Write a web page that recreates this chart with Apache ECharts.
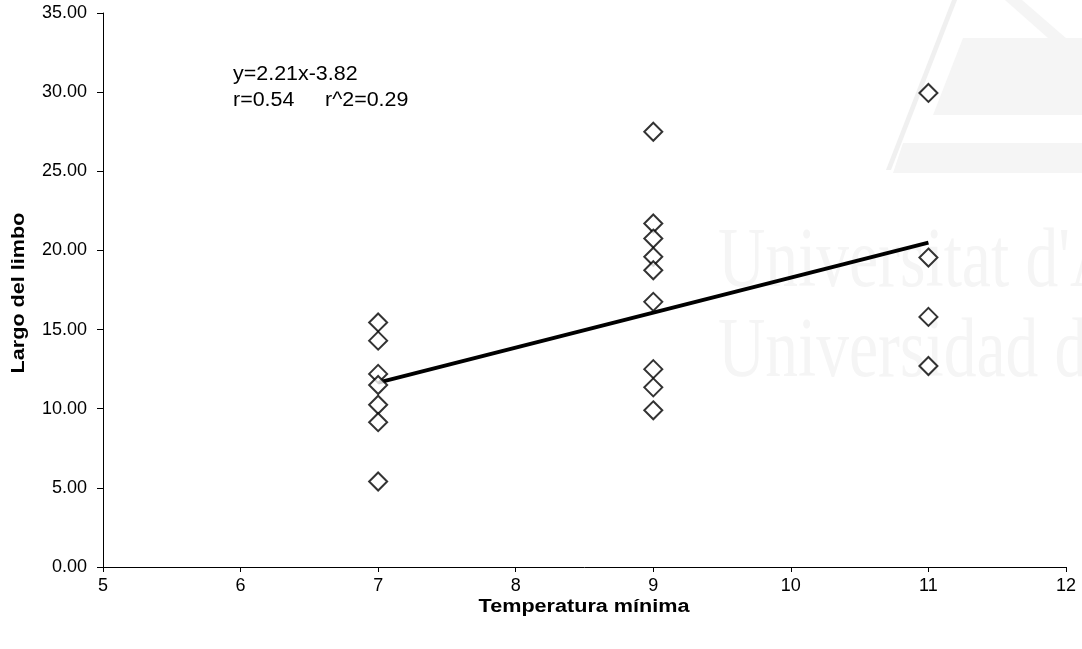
<!DOCTYPE html>
<html>
<head>
<meta charset="utf-8">
<script src="https://cdn.jsdelivr.net/npm/echarts@6/dist/echarts.min.js"></script>
<style>
  html, body { margin: 0; padding: 0; background: #fff; }
  #chart { width: 1082px; height: 649px; }
</style>
</head>
<body>
<div id="chart"></div>
<script>
// Minimum temperature (x) and blade length (y) per observation
const tempMin = [7, 7, 7, 7, 7, 7, 7,
                 9, 9, 9, 9, 9, 9, 9, 9, 9,
                 11, 11, 11, 11];
const largoLimbo = [15.45, 14.3, 12.2, 11.5, 10.25, 9.15, 5.4,
                    27.5, 21.7, 20.75, 19.6, 18.75, 16.75, 12.5, 11.35, 9.9,
                    29.95, 19.55, 15.8, 12.7];

// Fitted regression: y = 2.21x - 3.82, drawn over the observed x range
const slope = 2.21;
const intercept = -3.82;
const fitRange = [7, 11];

const xTicks = [5, 6, 7, 8, 9, 10, 11, 12];
const yTicks = [0, 5, 10, 15, 20, 25, 30, 35];

const eqText = 'y=2.21x-3.82';
const rText = 'r=0.54';
const r2Text = 'r^2=0.29';
const xTitle = 'Temperatura mínima';
const yTitle = 'Largo del limbo';

const fitLine = fitRange.map(x => [x, slope * x + intercept]);
const points = tempMin.map((x, i) => [x, largoLimbo[i]]);

const FONT = '"Liberation Sans", Arial, sans-serif';
const SERIF = '"Liberation Serif", "DejaVu Serif", serif';
const WM = '#f5f5f5';

const chart = echarts.init(document.getElementById('chart'), null, { renderer: 'canvas' });
chart.setOption({
  backgroundColor: '#ffffff',
  animation: false,
  grid: { left: 103, right: 16, top: 13, bottom: 82, containLabel: false },
  graphic: [
    // faint institutional watermark behind the plot
    { type: 'polygon', z: -10, silent: true,
      shape: { points: [[963, 38], [1082, 38], [1082, 115], [933, 115]] },
      style: { fill: WM } },
    { type: 'polygon', z: -10, silent: true,
      shape: { points: [[903, 143], [1082, 143], [1082, 173], [893, 173]] },
      style: { fill: WM } },
    { type: 'polygon', z: -10, silent: true,
      shape: { points: [[952, 0], [957, 0], [891, 170], [886, 170]] },
      style: { fill: '#f0f0f0' } },
    { type: 'polygon', z: -10, silent: true,
      shape: { points: [[1005, 0], [1022, 0], [1082, 52], [1082, 68]] },
      style: { fill: WM } },
    { type: 'text', z: -10, silent: true, x: 718, y: 222, scaleX: 0.78,
      style: { text: "Universitat d'Alacant", fill: WM, font: '84px ' + SERIF,
               verticalAlign: 'top' } },
    { type: 'text', z: -10, silent: true, x: 718, y: 312, scaleX: 0.78,
      style: { text: 'Universidad de Alicante', fill: WM, font: '84px ' + SERIF,
               verticalAlign: 'top' } },
    // regression equation and statistics
    { type: 'text', x: 233, y: 65, scaleX: 1.1,
      style: { text: eqText, fill: '#000', font: '19.5px ' + FONT, verticalAlign: 'top' } },
    { type: 'text', x: 233, y: 91, scaleX: 1.1,
      style: { text: rText, fill: '#000', font: '19.5px ' + FONT, verticalAlign: 'top' } },
    { type: 'text', x: 325, y: 91, scaleX: 1.1,
      style: { text: r2Text, fill: '#000', font: '19.5px ' + FONT, verticalAlign: 'top' } },
    // axis titles
    { type: 'text', x: 584, y: 607, scaleX: 1.2,
      style: { text: xTitle, fill: '#000', font: 'bold 18px ' + FONT,
               align: 'center', verticalAlign: 'middle' } },
    { type: 'text', x: 19, y: 293, rotation: Math.PI / 2, scaleX: 1.2,
      style: { text: yTitle, fill: '#000', font: 'bold 18px ' + FONT,
               align: 'center', verticalAlign: 'middle' } }
  ],
  xAxis: {
    type: 'value',
    min: xTicks[0], max: xTicks[xTicks.length - 1], interval: 1,
    axisLine: { show: true, onZero: false, lineStyle: { color: '#000', width: 1 } },
    axisTick: { show: true, length: 5, lineStyle: { color: '#000' } },
    axisLabel: { fontFamily: FONT, fontSize: 18, color: '#000', margin: 10 },
    splitLine: { show: false }
  },
  yAxis: {
    type: 'value',
    min: yTicks[0], max: yTicks[yTicks.length - 1], interval: 5,
    axisLine: { show: true, lineStyle: { color: '#000', width: 1 } },
    axisTick: { show: true, length: 6, lineStyle: { color: '#000' } },
    axisLabel: { fontFamily: FONT, fontSize: 18, color: '#000', margin: 16,
                 formatter: v => v.toFixed(2) },
    splitLine: { show: false }
  },
  series: [
    {
      type: 'line',
      data: fitLine,
      symbol: 'none',
      lineStyle: { color: '#000', width: 4 },
      z: 2
    },
    {
      type: 'scatter',
      data: points,
      symbol: 'diamond',
      symbolSize: 18,
      itemStyle: { color: '#fff', borderColor: '#000', borderWidth: 2 },
      z: 3
    }
  ]
});
</script>
</body>
</html>
